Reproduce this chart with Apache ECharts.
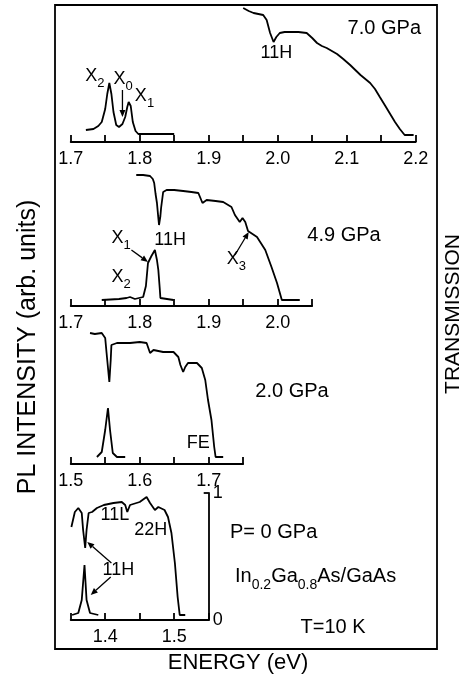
<!DOCTYPE html>
<html><head><meta charset="utf-8">
<script src="https://cdn.jsdelivr.net/npm/echarts@6/dist/echarts.min.js"></script>
<style>html,body{margin:0;padding:0;background:#fff}#c{width:466px;height:688px}</style>
</head><body><div id="c"></div>
<script>
// ---- data (energy in eV, intensity in arb. units) ----
const panelMin = [1.7, 1.7, 1.5, 1.35];
const panelMax = [2.2, 2.05, 1.75, 1.55];
const pressureLabels = ['7.0 GPa', '4.9 GPa', '2.0 GPa', 'P= 0 GPa'];

const trans70 = [[1.950,134],[1.958,131],[1.965,129],[1.972,128],[1.979,127],[1.984,122],[1.989,109],[1.994,100],[1.998,105],[2.003,109],[2.010,110],[2.018,110],[2.030,110],[2.042,109],[2.050,104],[2.057,99],[2.064,96],[2.071,94],[2.086,88],[2.095,83],[2.105,77],[2.120,67],[2.134,59],[2.141,53],[2.148,45],[2.156,36],[2.163,28],[2.170,20],[2.177,13],[2.184,7],[2.190,7],[2.197,7]];
const pl70 = [[1.722,12],[1.733,13],[1.740,16],[1.745,20],[1.750,33],[1.753,48],[1.756,59],[1.759,48],[1.762,30],[1.766,17],[1.770,15],[1.775,18],[1.779,25],[1.782,35],[1.784,40],[1.787,36],[1.790,20],[1.794,11],[1.798,8],[1.820,8],[1.850,8]];

const trans49 = [[1.795,131],[1.805,131],[1.815,130],[1.819,127],[1.821,123],[1.823,112],[1.825,103],[1.827,88],[1.828,81],[1.830,90],[1.831,98],[1.834,114],[1.839,116],[1.850,116],[1.863,115],[1.875,114],[1.885,113],[1.888,108],[1.891,103],[1.897,106],[1.910,105],[1.921,104],[1.933,99],[1.938,91],[1.945,84],[1.949,88],[1.953,84],[1.957,75],[1.970,69],[1.982,56],[1.991,39],[1.999,23],[2.006,6],[2.020,6],[2.032,6]];
const pl49 = [[1.745,6],[1.770,7],[1.781,8],[1.786,9],[1.793,7],[1.805,9],[1.809,20],[1.812,43],[1.817,50],[1.822,56],[1.825,46],[1.827,36],[1.829,18],[1.830,8],[1.849,6]];

const trans20 = [[1.528,131],[1.535,130],[1.545,131],[1.550,126],[1.552,111],[1.556,82],[1.558,104],[1.559,119],[1.567,121],[1.586,121],[1.600,122],[1.610,121],[1.615,111],[1.620,114],[1.634,112],[1.649,112],[1.656,107],[1.659,99],[1.663,92],[1.666,97],[1.670,101],[1.683,101],[1.690,96],[1.695,84],[1.699,64],[1.704,44],[1.708,17],[1.710,7],[1.721,7]];
const pl20 = [[1.538,7],[1.545,12],[1.550,34],[1.554,56],[1.557,34],[1.561,11],[1.567,7],[1.579,7]];

const trans0 = [[1.351,93],[1.356,108],[1.361,112],[1.366,107],[1.368,90],[1.371,72],[1.373,90],[1.376,107],[1.381,108],[1.388,112],[1.398,115],[1.412,117],[1.424,118],[1.429,115],[1.432,108],[1.436,115],[1.450,118],[1.460,123],[1.465,117],[1.472,110],[1.477,113],[1.486,110],[1.491,103],[1.496,87],[1.501,57],[1.505,23],[1.508,5],[1.516,5]];
const pl0 = [[1.352,5],[1.361,7],[1.366,20],[1.370,55],[1.373,20],[1.378,7],[1.390,5]];

const transSeries = [trans70, trans49, trans20, trans0];
const plSeries = [pl70, pl49, pl20, pl0];
const scaleTicks = ['0', '1'];

// ---- layout ----
const FONT = "'Liberation Sans', Arial, Helvetica, sans-serif";
const PX_PER_EV = 690;
const LEFT = 70.7;
const axisY = [142, 306, 464, 620];
const gridH = [140, 140, 140, 127];

const chart = echarts.init(document.getElementById('c'), null, {renderer: 'canvas'});

const grids = [], xAxes = [], yAxes = [], series = [];
for (let i = 0; i < 4; i++) {
  grids.push({left: LEFT, top: axisY[i] - gridH[i], width: (panelMax[i] - panelMin[i]) * PX_PER_EV, height: gridH[i]});
  xAxes.push({
    gridIndex: i, type: 'value', min: panelMin[i], max: panelMax[i], interval: 0.05,
    axisLine: {lineStyle: {color: '#000', width: 1.8}},
    axisTick: {inside: true, length: 7, lineStyle: {color: '#000', width: 1.8}},
    axisLabel: {color: '#000', fontSize: 18, fontFamily: FONT, margin: 8,
      showMinLabel: true, showMaxLabel: true,
      formatter: v => (Math.round(v * 100) % 10 === 0 ? v.toFixed(1) : '')},
    splitLine: {show: false}
  });
  yAxes.push({gridIndex: i, type: 'value', min: 0, max: gridH[i], show: false});
}
// right-hand transmission scale bar on the bottom panel
yAxes.push({
  gridIndex: 3, type: 'value', position: 'right', min: 0, max: 1, interval: 1,
  axisLine: {show: true, lineStyle: {color: '#000', width: 1.8}},
  axisTick: {show: true, inside: true, length: 5, lineStyle: {color: '#000', width: 1.8}},
  axisLabel: {color: '#000', fontSize: 18, fontFamily: FONT, margin: 4, formatter: v => scaleTicks[v]},
  splitLine: {show: false}
});
for (let i = 0; i < 4; i++) {
  [transSeries[i], plSeries[i]].forEach(d => series.push({
    type: 'line', xAxisIndex: i, yAxisIndex: i, data: d, showSymbol: false, symbol: 'none',
    lineStyle: {color: '#000', width: 1.8}, animation: false, clip: false
  }));
}

chart.setOption({animation: false, grid: grids, xAxis: xAxes, yAxis: yAxes, series: series});

// ---- annotations ----
const P = (i, E, h) => chart.convertToPixel({xAxisIndex: i, yAxisIndex: i}, [E, h]);
const g = [];
g.push({type: 'rect', shape: {x: 55, y: 5, width: 382, height: 644}, style: {fill: 'none', stroke: '#000', lineWidth: 1.8}, z: 10});

function txt(x, y, text, size, align, extra) {
  g.push(Object.assign({type: 'text', x: x, y: y, z: 20,
    style: {text: text, fill: '#000', font: size + 'px ' + FONT, textAlign: align || 'center', textVerticalAlign: 'middle'}}, extra || {}));
}
function sub(x, yc, text, big, small, drop) {
  g.push({type: 'text', x: x, y: yc - big / 2 - 1, z: 20,
    style: {text: text, fill: '#000', textAlign: 'left', textVerticalAlign: 'top',
      rich: {
        m: {fontSize: big, fontFamily: FONT, lineHeight: big + 2, verticalAlign: 'top', fill: '#000'},
        s: {fontSize: small, fontFamily: FONT, lineHeight: small, padding: [drop, 0, 0, 0], verticalAlign: 'top', fill: '#000'}
      }}});
}
function arrow(i, E1, h1, E2, h2) {
  const a = P(i, E1, h1), b = P(i, E2, h2);
  const dx = b[0] - a[0], dy = b[1] - a[1], L = Math.hypot(dx, dy), ux = dx / L, uy = dy / L;
  const hl = 7, hw = 3;
  const bx = b[0] - ux * hl, by = b[1] - uy * hl;
  g.push({type: 'line', z: 15, shape: {x1: a[0], y1: a[1], x2: bx, y2: by}, style: {stroke: '#000', lineWidth: 1.3}});
  g.push({type: 'polygon', z: 15, shape: {points: [[b[0], b[1]], [bx - uy * hw, by + ux * hw], [bx + uy * hw, by - ux * hw]]}, style: {fill: '#000'}});
}
function lab(i, E, h, text, size, align) { const p = P(i, E, h); txt(p[0], p[1], text, size, align); }
function labSub(i, E, h, text, big, small, drop) { const p = P(i, E, h); sub(p[0], p[1], text, big, small, drop); }

// panel 1 (7.0 GPa)
lab(0, 1.998, 89, '11H', 18);
labSub(0, 1.721, 65, '{m|X}{s|2}', 18, 13, 10);
labSub(0, 1.762, 62, '{m|X}{s|0}', 18, 13, 10);
labSub(0, 1.793, 45, '{m|X}{s|1}', 18, 13, 10);
arrow(0, 1.775, 52, 1.775, 25);
// panel 2 (4.9 GPa)
lab(1, 1.844, 66, '11H', 18);
labSub(1, 1.759, 67, '{m|X}{s|1}', 18, 13, 10);
labSub(1, 1.759, 28, '{m|X}{s|2}', 18, 13, 10);
labSub(1, 1.926, 46, '{m|X}{s|3}', 18, 13, 10);
arrow(1, 1.788, 56, 1.812, 44);
arrow(1, 1.938, 51, 1.958, 74);
// panel 3 (2.0 GPa)
lab(2, 1.685, 21, 'FE', 18);
// panel 4 (0 GPa)
lab(3, 1.414, 105, '11L', 18);
lab(3, 1.466, 90, '22H', 18);
lab(3, 1.419, 50, '11H', 18);
arrow(3, 1.409, 57, 1.374, 78);
arrow(3, 1.408, 43, 1.379, 25);

// pressure labels and sample description
txt(421, 28, pressureLabels[0], 20, 'right');
txt(344, 235, pressureLabels[1], 20);
txt(292, 391, pressureLabels[2], 20);
txt(230, 532, pressureLabels[3], 20, 'left');
sub(235, 577, '{m|In}{s|0.2}{m|Ga}{s|0.8}{m|As/GaAs}', 20, 14, 12);
txt(333, 627, 'T=10 K', 20);

// axis titles
txt(238, 663, 'ENERGY (eV)', 22);
txt(28, 347, 'PL INTENSITY (arb. units)', 25, 'center', {rotation: Math.PI / 2});
txt(453, 314, 'TRANSMISSION', 21, 'center', {rotation: Math.PI / 2});

chart.setOption({graphic: g});
</script></body></html>
